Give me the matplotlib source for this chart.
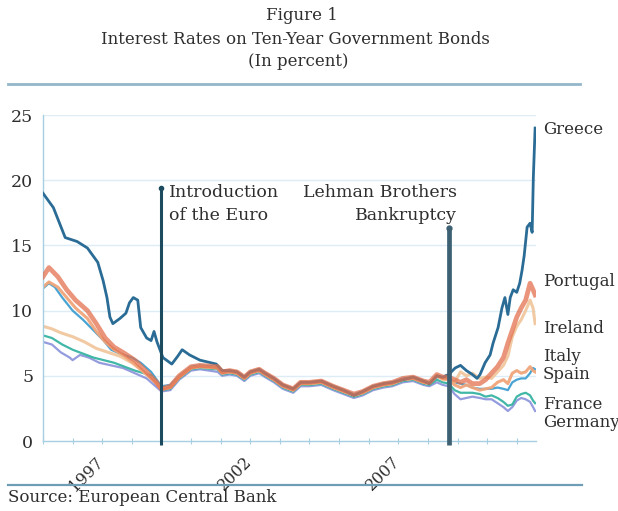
import matplotlib
matplotlib.use("Agg")
import matplotlib.pyplot as plt
from matplotlib.lines import Line2D
from matplotlib.transforms import ScaledTranslation

# ---------------- data ----------------
greece_years = [1995.0, 1995.35, 1995.75, 1996.15, 1996.5, 1996.85, 1997.03, 1997.16, 1997.26, 1997.36,
                1997.6, 1997.8, 1997.92, 1998.05, 1998.2, 1998.3, 1998.5, 1998.65, 1998.75, 1998.85,
                1999.05, 1999.35, 1999.55, 1999.7, 1999.95, 2000.3, 2000.85, 2001.05, 2001.3, 2001.55,
                2001.8, 2002.0, 2002.3, 2002.5, 2002.8, 2003.1, 2003.45, 2003.7, 2004.0, 2004.4,
                2004.8, 2005.15, 2005.5, 2005.8, 2006.15, 2006.5, 2006.8, 2007.15, 2007.5, 2007.85,
                2008.05, 2008.3, 2008.5, 2008.7, 2008.92, 2009.1, 2009.3, 2009.5, 2009.66, 2009.76,
                2009.93, 2010.1, 2010.2, 2010.37, 2010.5, 2010.6, 2010.7, 2010.78, 2010.88, 2011.0,
                2011.1, 2011.18, 2011.25, 2011.35, 2011.45, 2011.52, 2011.56, 2011.62]
greece_vals = [19.0, 17.9, 15.6, 15.3, 14.8, 13.7, 12.3, 11.0, 9.5, 9.0,
               9.4, 9.8, 10.6, 11.0, 10.8, 8.7, 7.9, 7.7, 8.4, 7.6,
               6.4, 5.9, 6.5, 7.0, 6.6, 6.2, 5.9, 5.4, 5.4, 5.3,
               4.9, 5.3, 5.5, 5.2, 4.8, 4.3, 4.0, 4.5, 4.5, 4.6,
               4.2, 3.9, 3.5, 3.8, 4.2, 4.4, 4.5, 4.7, 4.9, 4.6,
               4.4, 5.0, 4.9, 5.1, 5.6, 5.8, 5.4, 5.1, 4.8, 5.1,
               6.0, 6.6, 7.5, 8.7, 10.2, 11.0, 9.7, 11.0, 11.6, 11.4,
               12.1, 13.1, 14.2, 16.4, 16.7, 16.0, 20.2, 24.0]

pre_years_a = [1995.0, 1995.2, 1995.5, 1995.8, 1996.1, 1996.5, 1996.8, 1997.1, 1997.4, 1997.7,
               1998.1, 1998.5, 1998.8, 1999.0]
mid_years = [1999.3, 1999.6, 2000.0, 2000.3, 2000.9, 2001.05, 2001.3, 2001.55, 2001.8, 2002.0,
             2002.3, 2002.5, 2002.8, 2003.1, 2003.45, 2003.7, 2004.0, 2004.4, 2004.8, 2005.15,
             2005.5, 2005.8, 2006.15, 2006.5, 2006.8, 2007.15, 2007.5, 2007.85, 2008.05, 2008.3,
             2008.5]
post_years = [2008.7, 2008.9, 2009.1, 2009.3, 2009.5, 2009.75, 2009.95, 2010.15, 2010.35, 2010.55,
              2010.7, 2010.85, 2011.0, 2011.15, 2011.3, 2011.45, 2011.55, 2011.62]

portugal_pre = [12.6, 13.3, 12.6, 11.6, 10.8, 10.0, 9.0, 7.9, 7.2, 6.8, 6.2, 5.3, 4.6, 4.0]
portugal_mid = [4.2, 5.0, 5.7, 5.8, 5.7, 5.3, 5.4, 5.3, 4.9, 5.3,
                5.5, 5.2, 4.8, 4.3, 4.0, 4.5, 4.5, 4.6, 4.2, 3.9,
                3.6, 3.8, 4.2, 4.4, 4.5, 4.8, 4.9, 4.6, 4.5, 5.1, 4.9]
portugal_post = [4.9, 4.7, 4.5, 4.7, 4.4, 4.4, 4.7, 5.2, 5.7, 6.4,
                 7.5, 8.5, 9.5, 10.2, 10.8, 12.1, 11.6, 11.2]

spain_pre = [11.8, 12.2, 11.8, 11.0, 10.2, 9.4, 8.4, 7.6, 7.0, 6.6, 5.9, 5.1, 4.5, 3.95]
spain_mid = [4.1, 4.9, 5.6, 5.7, 5.6, 5.2, 5.3, 5.2, 4.8, 5.2,
             5.4, 5.1, 4.7, 4.2, 3.9, 4.4, 4.4, 4.5, 4.1, 3.8,
             3.5, 3.7, 4.1, 4.3, 4.4, 4.7, 4.8, 4.5, 4.4, 5.0, 4.8]
spain_post = [4.7, 4.3, 4.1, 4.3, 4.1, 3.9, 4.0, 4.1, 4.5, 4.7,
              4.4, 5.2, 5.4, 5.2, 5.3, 5.7, 5.4, 5.3]

italy_pre_years = [1995.0, 1995.2, 1995.4, 1995.65, 1996.0, 1996.35, 1996.7, 1997.05, 1997.3, 1997.6,
                   1998.0, 1998.3, 1998.65, 1999.0]
italy_pre = [11.7, 12.1, 11.8, 11.0, 10.0, 9.3, 8.5, 7.7, 7.0, 6.7, 6.4, 6.0, 5.3, 4.2]
italy_mid = [4.3, 5.0, 5.7, 5.8, 5.7, 5.3, 5.4, 5.3, 4.9, 5.3,
             5.5, 5.2, 4.8, 4.3, 4.0, 4.5, 4.5, 4.6, 4.2, 3.9,
             3.6, 3.8, 4.2, 4.4, 4.5, 4.8, 4.9, 4.6, 4.5, 4.9, 4.8]
italy_post = [4.8, 4.5, 4.4, 4.3, 4.1, 4.0, 4.0, 4.0, 4.1, 4.0,
              3.9, 4.5, 4.7, 4.8, 4.8, 5.2, 5.6, 5.5]

ireland_pre_years = [1995.0, 1995.3, 1995.6, 1996.0, 1996.4, 1996.8, 1997.2, 1997.6, 1998.0, 1998.4,
                     1998.8, 1999.0]
ireland_pre = [8.8, 8.6, 8.3, 8.0, 7.6, 7.1, 6.8, 6.5, 6.0, 5.3, 4.5, 4.0]
ireland_mid = [4.1, 4.9, 5.6, 5.7, 5.6, 5.2, 5.3, 5.2, 4.8, 5.2,
               5.4, 5.1, 4.7, 4.2, 3.9, 4.4, 4.4, 4.5, 4.1, 3.8,
               3.5, 3.7, 4.1, 4.3, 4.4, 4.7, 4.8, 4.5, 4.4, 5.0, 4.7]
ireland_post = [4.7, 4.5, 5.3, 5.0, 5.2, 4.8, 4.9, 4.8, 5.3, 5.8,
                6.5, 8.0, 8.8, 9.3, 10.0, 10.8, 10.2, 9.0]

france_pre_years = [1995.0, 1995.3, 1995.65, 1996.0, 1996.35, 1996.7, 1997.05, 1997.4, 1997.75, 1998.1,
                    1998.4, 1998.72, 1999.0]
france_pre = [8.1, 7.9, 7.4, 7.0, 6.7, 6.4, 6.2, 6.0, 5.7, 5.4, 5.2, 5.0, 3.9]
france_mid = [4.0, 4.8, 5.5, 5.6, 5.5, 5.1, 5.2, 5.1, 4.7, 5.1,
              5.3, 5.0, 4.6, 4.1, 3.8, 4.3, 4.3, 4.4, 4.0, 3.7,
              3.4, 3.6, 4.0, 4.2, 4.3, 4.6, 4.7, 4.4, 4.3, 4.7, 4.5]
france_post = [4.4, 3.9, 3.7, 3.7, 3.7, 3.6, 3.4, 3.5, 3.3, 3.0,
               2.7, 2.8, 3.4, 3.6, 3.7, 3.5, 3.1, 2.9]

germany_pre_years = [1995.0, 1995.3, 1995.6, 1995.9, 1996.0, 1996.25, 1996.55, 1996.9, 1997.3, 1997.7,
                     1998.1, 1998.5, 1998.8, 1999.0]
germany_pre = [7.6, 7.4, 6.8, 6.4, 6.2, 6.6, 6.4, 6.0, 5.8, 5.6, 5.2, 4.8, 4.2, 3.8]
germany_mid = [3.9, 4.7, 5.4, 5.5, 5.3, 5.0, 5.1, 5.0, 4.6, 5.0,
               5.2, 4.9, 4.5, 4.0, 3.7, 4.2, 4.2, 4.3, 3.9, 3.6,
               3.3, 3.5, 3.9, 4.1, 4.2, 4.5, 4.6, 4.3, 4.2, 4.5, 4.3]
germany_post = [4.2, 3.6, 3.2, 3.3, 3.4, 3.3, 3.2, 3.2, 2.9, 2.6,
                2.3, 2.6, 3.1, 3.3, 3.2, 3.0, 2.6, 2.3]

euro_year, euro_top = 1999.0, 19.4
lehman_year, lehman_top = 2008.7, 16.3
label_years = [1997, 2002, 2007]
y_ticks = [0, 5, 10, 15, 20, 25]

labels = ["Greece", "Portugal", "Ireland", "Italy", "Spain", "France", "Germany"]
label_y = [23.9, 12.2, 8.6, 6.5, 5.1, 2.8, 1.4]

# ---------------- figure ----------------
W, H = 618, 511
fig = plt.figure(figsize=(W / 100, H / 100), dpi=100)
fig.patch.set_facecolor("white")
FONT = "DejaVu Serif"
TXT = "#2e2e2e"

def fx(px):
    return px / W

def fy(py):
    return 1 - py / H

ax = fig.add_axes([fx(43), fy(441), fx(536) - fx(43), fy(115) - fy(441)])
ax.set_xlim(1995.0, 2011.65)
ax.set_ylim(0, 25)

AX_BLUE = "#a6cfe3"
GRID = "#deedf5"
for v in y_ticks[1:]:
    ax.axhline(v, color=GRID, lw=1.0, zorder=0)

for s in ["top", "right"]:
    ax.spines[s].set_visible(False)
ax.spines["left"].set_color(AX_BLUE)
ax.spines["bottom"].set_color(AX_BLUE)
ax.spines["left"].set_linewidth(1.0)
ax.spines["bottom"].set_linewidth(1.0)

years_all = list(range(1995, 2012))
ax.set_xticks(years_all)
ax.set_xticklabels([str(y) if y in label_years else "" for y in years_all],
                   rotation=45, ha="right", fontsize=11.5, family=FONT, color=TXT)
ax.tick_params(axis="x", direction="inout", length=5, color=AX_BLUE, pad=5)
shift = ScaledTranslation(5 / 100, -2 / 100, fig.dpi_scale_trans)
for lab in ax.get_xticklabels():
    lab.set_transform(lab.get_transform() + shift)
ax.set_yticks(y_ticks)
ax.set_yticklabels([str(v) for v in y_ticks], fontsize=12.5, family=FONT, color=TXT)
ax.tick_params(axis="y", length=0, pad=7)

def series(pre_y, pre_v, mid_v, post_v):
    return pre_y + mid_years + post_years, pre_v + mid_v + post_v

style = [
    ("Germany", series(germany_pre_years, germany_pre, germany_mid, germany_post), "#8f97dc", 1.6, 0.95),
    ("France", series(france_pre_years, france_pre, france_mid, france_post), "#37b3a2", 1.6, 0.95),
    ("Italy", series(italy_pre_years, italy_pre, italy_mid, italy_post), "#3f9fd2", 1.6, 0.95),
    ("Ireland", series(ireland_pre_years, ireland_pre, ireland_mid, ireland_post), "#f1c79e", 2.2, 0.95),
    ("Spain", series(pre_years_a, spain_pre, spain_mid, spain_post), "#f0a57a", 2.2, 0.95),
]
for name, (xs, ys), c, lw, a in style:
    ax.plot(xs, ys, color=c, lw=lw, alpha=a, zorder=2, solid_joinstyle="round")

ax.plot(greece_years, greece_vals, color="#2a6c95", lw=2.0, zorder=3, solid_joinstyle="round")
px_, pv_ = series(pre_years_a, portugal_pre, portugal_mid, portugal_post)
ax.plot(px_, pv_, color="#e2714f", lw=3.4, alpha=0.75, zorder=4, solid_joinstyle="round")

# event lines
ax.plot([euro_year, euro_year], [-0.3, euro_top], color="#1c4a5f", lw=2.2,
        zorder=5, clip_on=False, solid_capstyle="butt")
ax.plot([euro_year], [euro_top], marker="o", ms=3, color="#1c4a5f", zorder=5)
ax.plot([lehman_year, lehman_year], [-0.3, lehman_top], color="#3d6173", lw=3.4,
        zorder=5, clip_on=False, solid_capstyle="butt")
ax.plot([lehman_year], [lehman_top], marker="o", ms=3.5, color="#3d6173", zorder=5)

ax.text(1999.25, 19.7, "Introduction\nof the Euro", ha="left", va="top",
        fontsize=12.5, family=FONT, color=TXT, linespacing=1.45)
ax.text(2008.98, 19.7, "Lehman Brothers\nBankruptcy", ha="right", va="top",
        multialignment="right", fontsize=12.5, family=FONT, color=TXT, linespacing=1.45)

for name, yv in zip(labels, label_y):
    ax.text(2011.88, yv, name, ha="left", va="center", fontsize=12, family=FONT,
            color=TXT, clip_on=False)

# titles and rules
fig.text(fx(302), fy(15), "Figure 1", ha="center", va="center", fontsize=12, family=FONT, color=TXT)
fig.text(fx(295), fy(39), "Interest Rates on Ten-Year Government Bonds", ha="center", va="center",
         fontsize=12, family=FONT, color=TXT)
fig.text(fx(298), fy(61), "(In percent)", ha="center", va="center", fontsize=12, family=FONT, color=TXT)

fig.add_artist(Line2D([fx(8), fx(580)], [fy(84), fy(84)], color="#93b6c9", lw=2.0))
fig.add_artist(Line2D([fx(8), fx(582)], [fy(485), fy(485)], color="#6f9db6", lw=1.6))
fig.text(fx(8), fy(498), "Source: European Central Bank", ha="left", va="center",
         fontsize=12, family=FONT, color=TXT)

fig.savefig("out.png", dpi=100, facecolor="white")
